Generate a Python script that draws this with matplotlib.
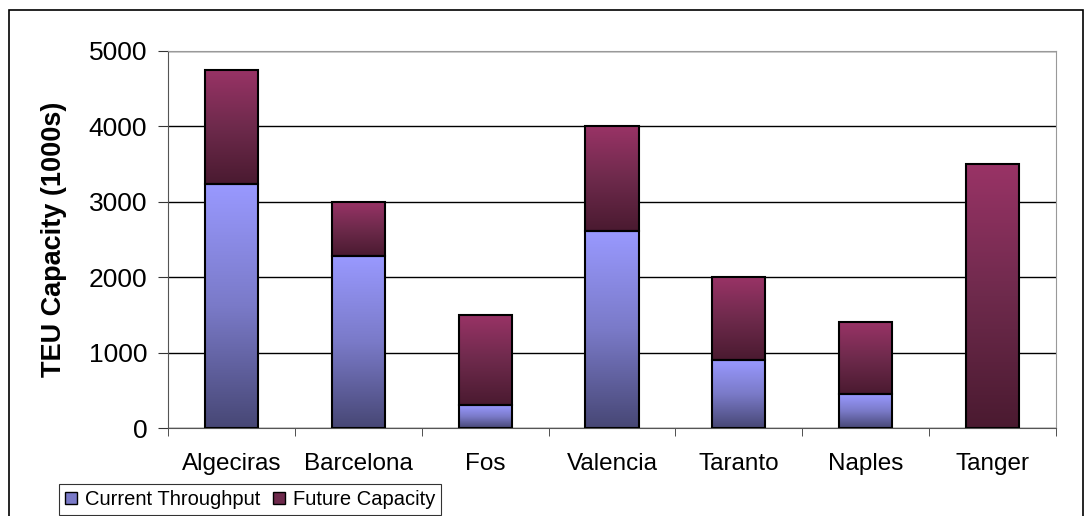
import matplotlib
matplotlib.use("Agg")
import matplotlib.pyplot as plt
import numpy as np
from matplotlib.colors import LinearSegmentedColormap
from matplotlib.patches import Rectangle, Patch

plt.rcParams['font.family'] = ['Liberation Sans', 'DejaVu Sans']

# Port data (TEU, thousands)
ports = ['Algeciras', 'Barcelona', 'Fos', 'Valencia', 'Taranto', 'Naples', 'Tanger']
current = [3230, 2280, 300, 2610, 900, 450, 0]
total = [4750, 3000, 1500, 4000, 2000, 1400, 3500]
future = [t - c for t, c in zip(total, current)]

# Gradient colormaps (bottom -> top)
cur_cmap = LinearSegmentedColormap.from_list('cur', ['#474775', '#7a7ac8', '#9999ff'])
fut_cmap = LinearSegmentedColormap.from_list('fut', ['#4a1a30', '#6e2a4c', '#993366'])

fig = plt.figure(figsize=(10.85, 5.16), dpi=100)
ax = fig.add_axes([168 / 1085, 1 - 428 / 516, (1056 - 168) / 1085, (428 - 51) / 516])

x = np.arange(len(ports))
width = 0.42
b1 = ax.bar(x, current, width, facecolor='none', edgecolor='black', linewidth=1.5, zorder=3)
b2 = ax.bar(x, future, width, bottom=current, facecolor='none', edgecolor='black', linewidth=1.5, zorder=3)

grad = np.linspace(0, 1, 256).reshape(-1, 1)
for bars, cmap in [(b1, cur_cmap), (b2, fut_cmap)]:
    for p in bars:
        h = p.get_height()
        if h <= 0:
            p.set_visible(False)
            continue
        x0, y0 = p.get_x(), p.get_y()
        ax.imshow(grad, cmap=cmap, origin='lower', aspect='auto',
                  extent=[x0, x0 + p.get_width(), y0, y0 + h], zorder=2)

ax.set_xlim(-0.5, len(ports) - 0.5)
ax.set_ylim(0, 5000)
ax.set_yticks(np.arange(0, 5001, 1000))
ax.set_xticks(x)
ax.set_xticklabels(ports, fontsize=17.5)
ax.set_xticks(np.arange(-0.5, len(ports), 1), minor=True)
ax.tick_params(axis='x', which='major', length=0, pad=18)
ax.tick_params(axis='x', which='minor', length=6, direction='out', color='#333333')
ax.tick_params(axis='y', labelsize=19, length=7, pad=8, direction='out', color='#333333')

ax.yaxis.grid(True, color='black', linewidth=1.0, zorder=0)
ax.set_axisbelow(True)
ax.spines['left'].set_color('#555555')
ax.spines['bottom'].set_color('#555555')
ax.spines['top'].set_color('#999999')
ax.spines['right'].set_color('#999999')

ax.set_ylabel('TEU Capacity (1000s)', fontsize=19.5, fontweight='bold')
ax.yaxis.set_label_coords((67 - 168) / 888, 0.5)

handles = [Patch(facecolor='#7a7ac8', edgecolor='black'),
           Patch(facecolor='#6e2a4c', edgecolor='black')]
leg = fig.legend(handles, ['Current Throughput', 'Future Capacity'], ncol=2,
                 loc='upper left', bbox_to_anchor=(59 / 1085, 1 - 484 / 516),
                 fontsize=14.5, frameon=True, fancybox=False, borderpad=0.3,
                 handlelength=0.6, handleheight=0.6, handletextpad=0.4,
                 columnspacing=0.6, borderaxespad=0)
leg.get_frame().set_edgecolor('black')
leg.get_frame().set_linewidth(0.8)

fig.patches.append(Rectangle((9 / 1085, -0.1), (1083 - 9) / 1085, 1.1 - 10 / 516,
                             transform=fig.transFigure, fill=False,
                             edgecolor='black', linewidth=1.2))

fig.savefig('out.png', dpi=100)
